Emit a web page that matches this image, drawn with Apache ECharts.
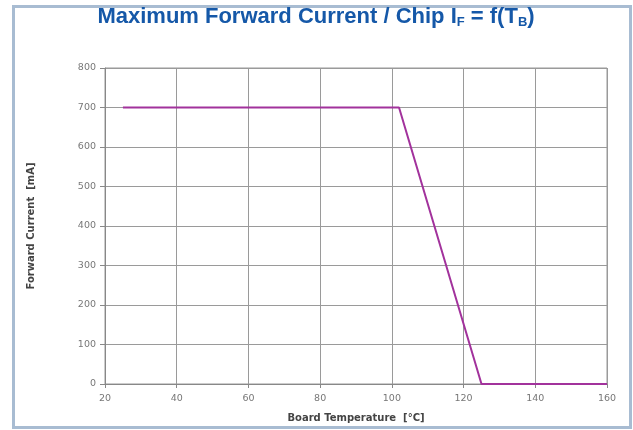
<!DOCTYPE html>
<html><head><meta charset="utf-8">
<script src="https://cdn.jsdelivr.net/npm/echarts@6/dist/echarts.min.js"></script>
<style>html,body{margin:0;padding:0;background:#fff;}#c{width:633px;height:430px;}</style>
</head><body><div id="c"></div>
<script>
const temperatures = [25, 102, 125, 160];
const currents = [700, 700, 0, 0];
const xTicks = [20, 40, 60, 80, 100, 120, 140, 160];
const yTicks = [0, 100, 200, 300, 400, 500, 600, 700, 800];

const chart = echarts.init(document.getElementById('c'));
chart.setOption({
  animation: false,
  backgroundColor: '#ffffff',
  graphic: [{
    type: 'rect', left: 11, top: 4, shape: {width: 617, height: 421},
    style: {fill: 'none', stroke: '#a8bcd2', lineWidth: 3}
  }],
  title: {
    text: 'Maximum Forward Current / Chip I{s|F} = f(T{s|B})',
    left: 311, textAlign: 'center', top: 0,
    textStyle: {
      fontFamily: 'Liberation Sans, Arial, sans-serif', fontSize: 22, fontWeight: 'bold', color: '#1558a8',
      rich: {s: {fontSize: 13, fontWeight: 'bold', color: '#1558a8', padding: [11, 0, 0, 0], fontFamily: 'Liberation Sans, Arial, sans-serif'}}
    }
  },
  grid: {left: 105, right: 26, top: 68, bottom: 46, show: true, borderColor: '#999', borderWidth: 1},
  xAxis: {
    type: 'value', min: 20, max: 160, interval: 20,
    name: 'Board Temperature  [°C]', nameLocation: 'middle', nameGap: 29,
    nameTextStyle: {fontSize: 10, fontWeight: 'bold', color: '#444', fontFamily: 'DejaVu Sans'},
    axisLine: {show: true, lineStyle: {color: '#888'}},
    axisTick: {show: true, length: 4, lineStyle: {color: '#888'}},
    axisLabel: {fontSize: 9.5, color: '#777', margin: 10, fontFamily: 'DejaVu Sans',
      formatter: v => xTicks.includes(v) ? String(v) : ''},
    splitLine: {show: true, lineStyle: {color: '#9a9a9a', width: 1}}
  },
  yAxis: {
    type: 'value', min: 0, max: 800, interval: 100,
    name: 'Forward Current  [mA]', nameLocation: 'middle', nameGap: 69,
    nameTextStyle: {fontSize: 10, fontWeight: 'bold', color: '#444', fontFamily: 'DejaVu Sans'},
    axisLine: {show: true, lineStyle: {color: '#888'}},
    axisTick: {show: true, length: 5, lineStyle: {color: '#888'}},
    axisLabel: {fontSize: 9.5, color: '#777', margin: 9, fontFamily: 'DejaVu Sans',
      formatter: v => yTicks.includes(v) ? String(v) : ''},
    splitLine: {show: true, lineStyle: {color: '#9a9a9a', width: 1}}
  },
  series: [{
    type: 'line',
    data: temperatures.map((t, i) => [t, currents[i]]),
    showSymbol: false, symbol: 'none',
    lineStyle: {color: '#a2329c', width: 2}
  }]
});
</script></body></html>
